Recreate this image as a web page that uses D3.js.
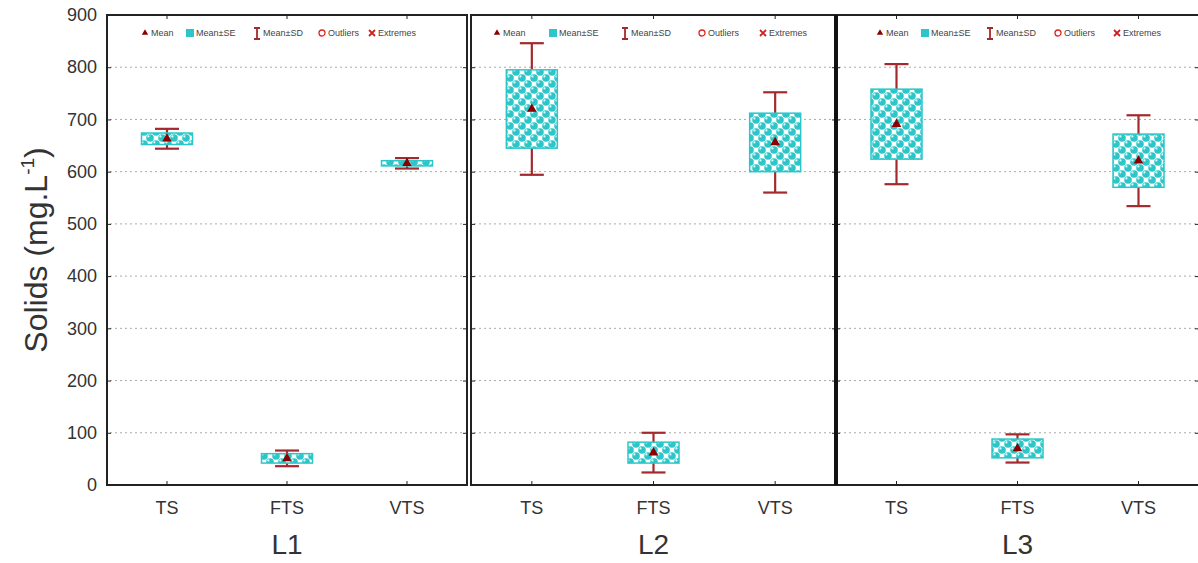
<!DOCTYPE html>
<html><head><meta charset="utf-8">
<script src="https://cdn.jsdelivr.net/npm/d3@7/dist/d3.min.js"></script>
<style>body{margin:0;background:#fff;} text{font-family:"Liberation Sans",Arial,sans-serif;}</style>
</head><body><svg id="c" width="1198" height="563"></svg>
<script>
const groups = ["L1","L2","L3"];
const categories = ["TS","FTS","VTS"];
const yTicks = [0,100,200,300,400,500,600,700,800,900];
const gridTicks = [100,200,300,400,500,600,700,800];
const meanL1 = [663, 51, 616];
const seL1   = [11, 9, 5];
const sdL1   = [19, 15, 10];
const meanL2 = [720, 62, 656];
const seL2   = [75, 20, 56];
const sdL2   = [126, 38, 96];
const meanL3 = [691, 70, 621];
const seL3   = [67, 18, 51];
const sdL3   = [115, 27, 87];
const legendItems = ["Mean","Mean±SE","Mean±SD","Outliers","Extremes"];

(function(){
const means=[meanL1,meanL2,meanL3], ses=[seL1,seL2,seL3], sds=[sdL1,sdL2,sdL3];
const svg=d3.select("#c");
const plotTop=15, plotBottom=485;
const panelLefts=[107,471,836], panelWs=[360,365,363];
const y=d3.scaleLinear().domain([0,900]).range([plotBottom,plotTop]);
const red="#a32a2c", cyan="#2cc6c9";

const defs=svg.append("defs");
const pat=defs.append("pattern").attr("id","bub").attr("patternUnits","userSpaceOnUse")
  .attr("width",12).attr("height",12);
pat.append("rect").attr("width",12).attr("height",12).attr("fill","#ffffff");
[[0,0],[12,0],[0,12],[12,12],[6,6]].forEach(([cx,cy])=>{
  pat.append("circle").attr("cx",cx).attr("cy",cy).attr("r",4.1).attr("fill",cyan)
    .attr("stroke","#fff").attr("stroke-width",0.6);
  pat.append("circle").attr("cx",cx-1.6).attr("cy",cy-1.6).attr("r",1.1).attr("fill","#d8ffff");
});

const yAxis=d3.axisLeft(y).tickValues(yTicks).tickSize(0).tickPadding(10);
const ya=svg.append("g").attr("transform",`translate(${panelLefts[0]},0)`).call(yAxis);
ya.select(".domain").remove();
ya.selectAll("text").attr("font-size",18).attr("fill","#333").attr("font-family","Liberation Sans, Arial");

const yl=svg.append("text").attr("transform","translate(47,250) rotate(-90)").attr("text-anchor","middle")
  .attr("font-size",32).attr("fill","#333");
yl.append("tspan").text("Solids (mg.L");
yl.append("tspan").text("-1").attr("font-size",19).attr("dy",-13);
yl.append("tspan").text(")").attr("dy",13);

groups.forEach((g,gi)=>{
  const L=panelLefts[gi], R=L+panelWs[gi];
  const x=d3.scaleBand().domain(categories).range([L,R]).padding(0);
  const p=svg.append("g");
  p.selectAll(".grid").data(gridTicks).join("line")
    .attr("x1",L+3).attr("x2",R-3).attr("y1",d=>y(d)).attr("y2",d=>y(d))
    .attr("stroke","#aaa").attr("stroke-width",1).attr("stroke-dasharray","2,3");
  const xa=p.append("g").attr("transform",`translate(0,${plotBottom})`)
    .call(d3.axisBottom(x).tickSize(-4).tickSizeOuter(0).tickPadding(16));
  xa.select(".domain").remove();
  xa.selectAll("line").attr("stroke","#222");
  xa.selectAll("text").attr("font-size",18).attr("fill","#333");
  p.append("g").attr("transform",`translate(0,${plotTop})`)
    .call(d3.axisTop(x).tickSize(-4).tickSizeOuter(0).tickFormat(""))
    .call(s=>{s.select(".domain").remove();s.selectAll("line").attr("stroke","#222");});
  p.append("g").attr("transform",`translate(${L},0)`)
    .call(d3.axisLeft(y).tickValues(yTicks).tickSize(-4).tickFormat(""))
    .call(s=>{s.select(".domain").remove();s.selectAll("line").attr("stroke","#222");});
  p.append("g").attr("transform",`translate(${R},0)`)
    .call(d3.axisRight(y).tickValues(yTicks).tickSize(-4).tickFormat(""))
    .call(s=>{s.select(".domain").remove();s.selectAll("line").attr("stroke","#222");});
  p.append("rect").attr("x",L).attr("y",plotTop).attr("width",panelWs[gi]).attr("height",plotBottom-plotTop)
    .attr("fill","none").attr("stroke","#222").attr("stroke-width",2);
  if(gi==2) p.append("line").attr("x1",L).attr("x2",L).attr("y1",plotTop).attr("y2",plotBottom)
    .attr("stroke","#111").attr("stroke-width",4);
  p.append("text").attr("x",(L+R)/2).attr("y",554).attr("text-anchor","middle")
    .attr("font-size",28).attr("fill","#333").text(g);
  const bw=51, cw=24;
  categories.forEach((c,ci)=>{
    const cx=x(c)+x.bandwidth()/2, m=means[gi][ci], se=ses[gi][ci], sd=sds[gi][ci];
    const gg=p.append("g");
    gg.append("line").attr("x1",cx).attr("x2",cx).attr("y1",y(m+sd)).attr("y2",y(m-sd))
      .attr("stroke",red).attr("stroke-width",2.2);
    [m+sd,m-sd].forEach(v=>gg.append("line").attr("x1",cx-cw/2).attr("x2",cx+cw/2)
      .attr("y1",y(v)).attr("y2",y(v)).attr("stroke",red).attr("stroke-width",2.2));
    gg.append("rect").attr("x",cx-bw/2).attr("y",y(m+se)).attr("width",bw)
      .attr("height",y(m-se)-y(m+se)).attr("fill","url(#bub)").attr("stroke",cyan).attr("stroke-width",1.5);
    gg.append("path").attr("d",d3.symbol().type(d3.symbolTriangle).size(40)())
      .attr("transform",`translate(${cx},${y(m)})`).attr("fill","#8b0000");
  });
  const legStart=[145,497,880][gi];
  const legPos=[[0,45,112,177,227],[0,56,128,205,266],[0,45,110,178,237]][gi];
  const lg=p.append("g").attr("transform",`translate(${legStart},35)`);
  legendItems.forEach((t,i)=>{
    const it=lg.append("g").attr("transform",`translate(${legPos[i]},0)`);
    if(i==0) it.append("path").attr("d",d3.symbol().type(d3.symbolTriangle).size(18)()).attr("fill","#8b0000").attr("transform","translate(0,-2)");
    if(i==1) it.append("rect").attr("x",-4).attr("y",-6).attr("width",8).attr("height",8).attr("fill",cyan);
    if(i==2) it.append("path").attr("d","M-3,-7H3M0,-7V4M-3,4H3").attr("stroke",red).attr("stroke-width",1.8).attr("fill","none");
    if(i==3) it.append("circle").attr("cy",-2).attr("r",3).attr("fill","none").attr("stroke","#d22").attr("stroke-width",1.3);
    if(i==4) it.append("path").attr("d","M-3,-5L3,1M3,-5L-3,1").attr("stroke","#c22").attr("stroke-width",1.8);
    it.append("text").attr("x",6).attr("y",1).attr("font-size",9).attr("fill","#444").text(t);
  });
});
})();
</script></body></html>
